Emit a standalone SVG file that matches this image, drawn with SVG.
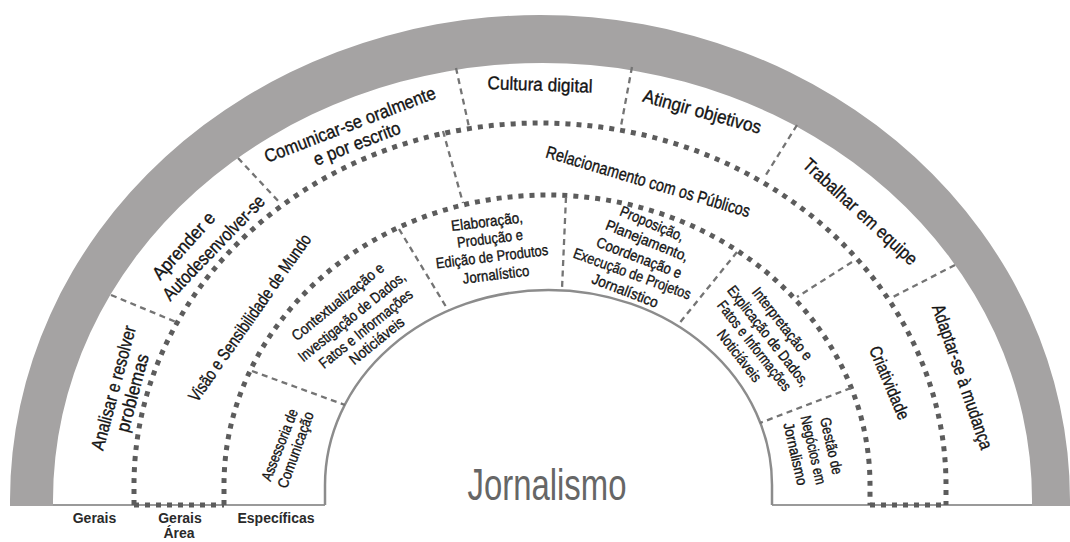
<svg xmlns="http://www.w3.org/2000/svg" width="1070" height="542" viewBox="0 0 1070 542">
<style>
.band{fill:#a5a3a3}
.dots{fill:none;stroke:#5c5c5c;stroke-width:5;stroke-dasharray:5 6}
.dash{fill:none;stroke:#747474;stroke-width:2.3;stroke-dasharray:6 4.5}
.solid{fill:none;stroke:#8c8c8c;stroke-width:2.5}
.base{fill:none;stroke:#9a9a9a;stroke-width:2}
.t{font-family:"Liberation Sans",Arial,sans-serif;fill:#141414;stroke:#141414;stroke-width:0.35;text-anchor:middle}
.ta{font-size:18.5px}
.tb{font-size:17.5px}
.tc{font-size:15px}
.leg{font-family:"Liberation Sans",Arial,sans-serif;font-weight:bold;font-size:14px;fill:#2a2a2a;text-anchor:middle}
.title{font-family:"Liberation Sans",Arial,sans-serif;font-size:44px;fill:#666666;text-anchor:middle}
</style>
<rect width="1070" height="542" fill="#ffffff"/>
<g id="arch">
<path class="band" d="M 10 506 L 10 500 A 530 485 0 0 1 1070 500 L 1070 506 L 1032 506 L 1032 500 A 489.5 437 0 0 0 53 500 L 53 506 Z"/>
<path class="base" d="M 53 505 H 325 M 772 505 H 1032"/>
<path class="solid" d="M 325 505 L 325 485 A 223.5 195 0 0 1 772 485 L 772 505"/>
</g>
<g id="connectors">
<path class="dots" d="M 134 505 L 134 485 A 406 362 0 0 1 946 485 L 946 505"/>
<path class="dots" d="M 224 505 L 224 485 A 323 290 0 0 1 870 485 L 870 505"/>
<path class="dots" d="M 134 505 H 224 M 870 505 H 946"/>
<path class="dash" d="M 111 295 L 176 322"/>
<path class="dash" d="M 238 158 L 281 204"/>
<path class="dash" d="M 456 68 L 469 127"/>
<path class="dash" d="M 632 67 L 621 126"/>
<path class="dash" d="M 797 125 L 764 178"/>
<path class="dash" d="M 955 265 L 891 298"/>
<path class="dash" d="M 443 131 L 463 203"/>
<path class="dash" d="M 852 262 L 797 297"/>
<path class="dash" d="M 252 371 L 345 405"/>
<path class="dash" d="M 399 229 L 448 310"/>
<path class="dash" d="M 566 197 L 562 289"/>
<path class="dash" d="M 737 252 L 678 325"/>
<path class="dash" d="M 851 388 L 760 423"/>
</g>
<g id="analisar">
<text class="t ta" transform="translate(114 388) rotate(-75)" y="5.8" textLength="128" lengthAdjust="spacingAndGlyphs">Analisar e resolver</text>
<text class="t ta" transform="translate(133 393) rotate(-75)" y="5.8" textLength="80" lengthAdjust="spacingAndGlyphs">problemas</text>
</g>
<g id="aprender">
<text class="t ta" transform="translate(184 246) rotate(-48)" y="5.8" textLength="84" lengthAdjust="spacingAndGlyphs">Aprender e</text>
<text class="t ta" transform="translate(214 248) rotate(-46)" y="5.8" textLength="138" lengthAdjust="spacingAndGlyphs">Autodesenvolver-se</text>
</g>
<g id="comunicar">
<text class="t ta" transform="translate(350 125) rotate(-21)" y="5.8" textLength="182" lengthAdjust="spacingAndGlyphs">Comunicar-se oralmente</text>
<text class="t ta" transform="translate(357 144) rotate(-21)" y="5.8" textLength="92" lengthAdjust="spacingAndGlyphs">e por escrito</text>
</g>
<g id="cultura">
<text class="t ta" transform="translate(540 85) rotate(2)" y="5.8" textLength="105" lengthAdjust="spacingAndGlyphs">Cultura digital</text>
</g>
<g id="atingir">
<text class="t ta" transform="translate(702 112) rotate(15.5)" y="5.8" textLength="122" lengthAdjust="spacingAndGlyphs">Atingir objetivos</text>
</g>
<g id="trabalhar">
<text class="t ta" transform="translate(860 212) rotate(42.5)" y="5.8" textLength="148" lengthAdjust="spacingAndGlyphs">Trabalhar em equipe</text>
</g>
<g id="adaptar">
<text class="t ta" transform="translate(962 377) rotate(71)" y="5.8" textLength="152" lengthAdjust="spacingAndGlyphs">Adaptar-se à mudança</text>
</g>
<g id="visao">
<text class="t tb" transform="translate(250 318) rotate(-55)" y="5.5" textLength="200" lengthAdjust="spacingAndGlyphs">Visão e Sensibilidade de Mundo</text>
</g>
<g id="relacionamento">
<text class="t tb" transform="translate(648 182) rotate(16.5)" y="5.5" textLength="212" lengthAdjust="spacingAndGlyphs">Relacionamento com os Públicos</text>
</g>
<g id="criatividade">
<text class="t tb" transform="translate(889 383) rotate(67)" y="5.5" textLength="78" lengthAdjust="spacingAndGlyphs">Criatividade</text>
</g>
<g id="assessoria">
<text class="t tc" transform="translate(280 445) rotate(-68.5)" y="4.7" textLength="76" lengthAdjust="spacingAndGlyphs">Assessoria de</text>
<text class="t tc" transform="translate(296 450) rotate(-70)" y="4.7" textLength="80" lengthAdjust="spacingAndGlyphs">Comunicação</text>
</g>
<g id="contextualizacao">
<text class="t tc" transform="translate(338 302) rotate(-39)" y="4.7" textLength="114" lengthAdjust="spacingAndGlyphs">Contextualização e</text>
<text class="t tc" transform="translate(352 317) rotate(-39)" y="4.7" textLength="133" lengthAdjust="spacingAndGlyphs">Investigação de Dados,</text>
<text class="t tc" transform="translate(366 329) rotate(-39)" y="4.7" textLength="116" lengthAdjust="spacingAndGlyphs">Fatos e Informações</text>
<text class="t tc" transform="translate(377 341) rotate(-39)" y="4.7" textLength="66" lengthAdjust="spacingAndGlyphs">Noticiáveis</text>
</g>
<g id="elaboracao">
<text class="t tc" transform="translate(487 222) rotate(-7)" y="4.7" textLength="72" lengthAdjust="spacingAndGlyphs">Elaboração,</text>
<text class="t tc" transform="translate(490 239) rotate(-7)" y="4.7" textLength="66" lengthAdjust="spacingAndGlyphs">Produção e</text>
<text class="t tc" transform="translate(492 257) rotate(-7)" y="4.7" textLength="113" lengthAdjust="spacingAndGlyphs">Edição de Produtos</text>
<text class="t tc" transform="translate(496 275) rotate(-7)" y="4.7" textLength="67" lengthAdjust="spacingAndGlyphs">Jornalístico</text>
</g>
<g id="proposicao">
<text class="t tc" transform="translate(652 224) rotate(23)" y="4.7" textLength="68" lengthAdjust="spacingAndGlyphs">Proposição,</text>
<text class="t tc" transform="translate(647 241) rotate(22)" y="4.7" textLength="88" lengthAdjust="spacingAndGlyphs">Planejamento,</text>
<text class="t tc" transform="translate(639 258) rotate(21)" y="4.7" textLength="90" lengthAdjust="spacingAndGlyphs">Coordenação e</text>
<text class="t tc" transform="translate(632 274) rotate(20)" y="4.7" textLength="124" lengthAdjust="spacingAndGlyphs">Execução de Projetos</text>
<text class="t tc" transform="translate(625 291) rotate(21)" y="4.7" textLength="70" lengthAdjust="spacingAndGlyphs">Jornalístico</text>
</g>
<g id="interpretacao">
<text class="t tc" transform="translate(782 324) rotate(52)" y="4.7" textLength="88" lengthAdjust="spacingAndGlyphs">Interpretação e</text>
<text class="t tc" transform="translate(768 336) rotate(52)" y="4.7" textLength="123" lengthAdjust="spacingAndGlyphs">Explicação de Dados,</text>
<text class="t tc" transform="translate(754 346) rotate(52)" y="4.7" textLength="110" lengthAdjust="spacingAndGlyphs">Fatos e Informações</text>
<text class="t tc" transform="translate(739 356) rotate(52)" y="4.7" textLength="62" lengthAdjust="spacingAndGlyphs">Noticiáveis</text>
</g>
<g id="gestao">
<text class="t tc" transform="translate(831 446) rotate(77)" y="4.7" textLength="58" lengthAdjust="spacingAndGlyphs">Gestão de</text>
<text class="t tc" transform="translate(813 450) rotate(77)" y="4.7" textLength="70" lengthAdjust="spacingAndGlyphs">Negócios em</text>
<text class="t tc" transform="translate(795 454) rotate(77)" y="4.7" textLength="64" lengthAdjust="spacingAndGlyphs">Jornalismo</text>
</g>
<g id="jornalismo">
<text class="title" x="547" y="500" textLength="159" lengthAdjust="spacingAndGlyphs">Jornalismo</text>
</g>
<g id="legend">
<text class="leg" x="94.5" y="523">Gerais</text>
<text class="leg" x="180" y="523">Gerais</text>
<text class="leg" x="179" y="538">Área</text>
<text class="leg" x="276" y="523">Específicas</text>
</g>
</svg>
